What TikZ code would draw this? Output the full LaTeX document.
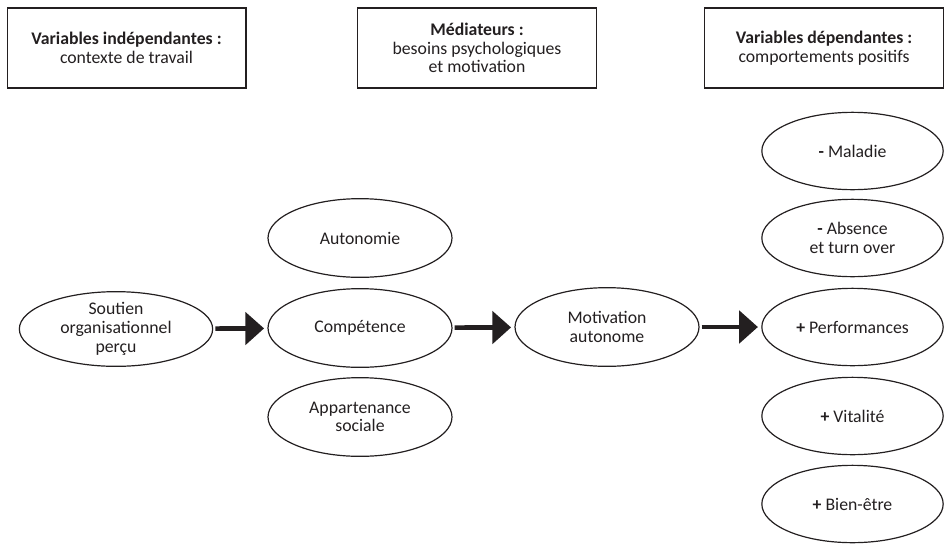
\documentclass[tikz,border=0pt]{standalone}
\usepackage{fontspec}
\setmainfont{Carlito}
\usetikzlibrary{shapes.geometric, arrows.meta}
\definecolor{encre}{HTML}{231F20}

\begin{document}
\begin{tikzpicture}[x={(0.75pt, 0pt)}, y={(0pt, -0.75pt)}]
  \tikzstyle{cadre}=[draw=encre, line width=1pt, minimum width=179pt, minimum height=60pt, inner sep=0pt, align=center, text=encre, font=\fontsize{13.3}{14}\selectfont]
  \tikzstyle{bulle}=[draw=encre, ellipse, line width=0.9pt, minimum width=138pt, minimum height=59pt, inner sep=0pt, align=center, text=encre, font=\fontsize{13.3}{14}\selectfont]
  \tikzstyle{fleche}=[draw=encre, fill=encre, line width=3.5pt, -{Triangle[length=14pt, width=24pt]}, shorten >=2.5pt, shorten <=1.5pt]

\useasboundingbox (0, 0) rectangle (944, 543);

% titres des colonnes
\node[cadre] (t1) at (126.5, 48) {\textbf{Variables indépendantes :}\\contexte de travail};
\node[cadre] (t2) at (477, 48) {\textbf{Médiateurs :}\\besoins psychologiques\\et motivation};
\node[cadre] (t3) at (824, 48) {\textbf{Variables dépendantes :}\\comportements positifs};

% variable independante
\node[bulle, minimum width=145pt, minimum height=56pt] (soutien) at (116, 329) {Soutien\\organisationnel\\perçu};

% besoins psychologiques
\node[bulle] (autonomie) at (360, 238) {Autonomie};
\node[bulle] (competence) at (360, 328) {Compétence};
\node[bulle] (appartenance) at (360, 417) {Appartenance\\sociale};
\draw[fleche] (soutien) -- (competence);

% motivation
\node[bulle] (motivation) at (607, 327) {Motivation\\autonome};
\draw[fleche] (competence) -- (motivation);

% comportements
\node[bulle, minimum width=136pt, minimum height=58pt] (maladie) at (852.5, 151) {\textbf{-} Maladie};
\node[bulle, minimum width=136pt, minimum height=58pt] (absence) at (852.5, 238) {\textbf{-} Absence\\et turn over};
\node[bulle, minimum width=136pt, minimum height=58pt] (perf) at (852.5, 327) {\textbf{+} Performances};
\node[bulle, minimum width=136pt, minimum height=58pt] (vitalite) at (852.5, 416) {\textbf{+} Vitalité};
\node[bulle, minimum width=136pt, minimum height=58pt] (bienetre) at (852.5, 504) {\textbf{+} Bien-être};
\draw[fleche] (motivation) -- (perf);

\end{tikzpicture}
\end{document}
